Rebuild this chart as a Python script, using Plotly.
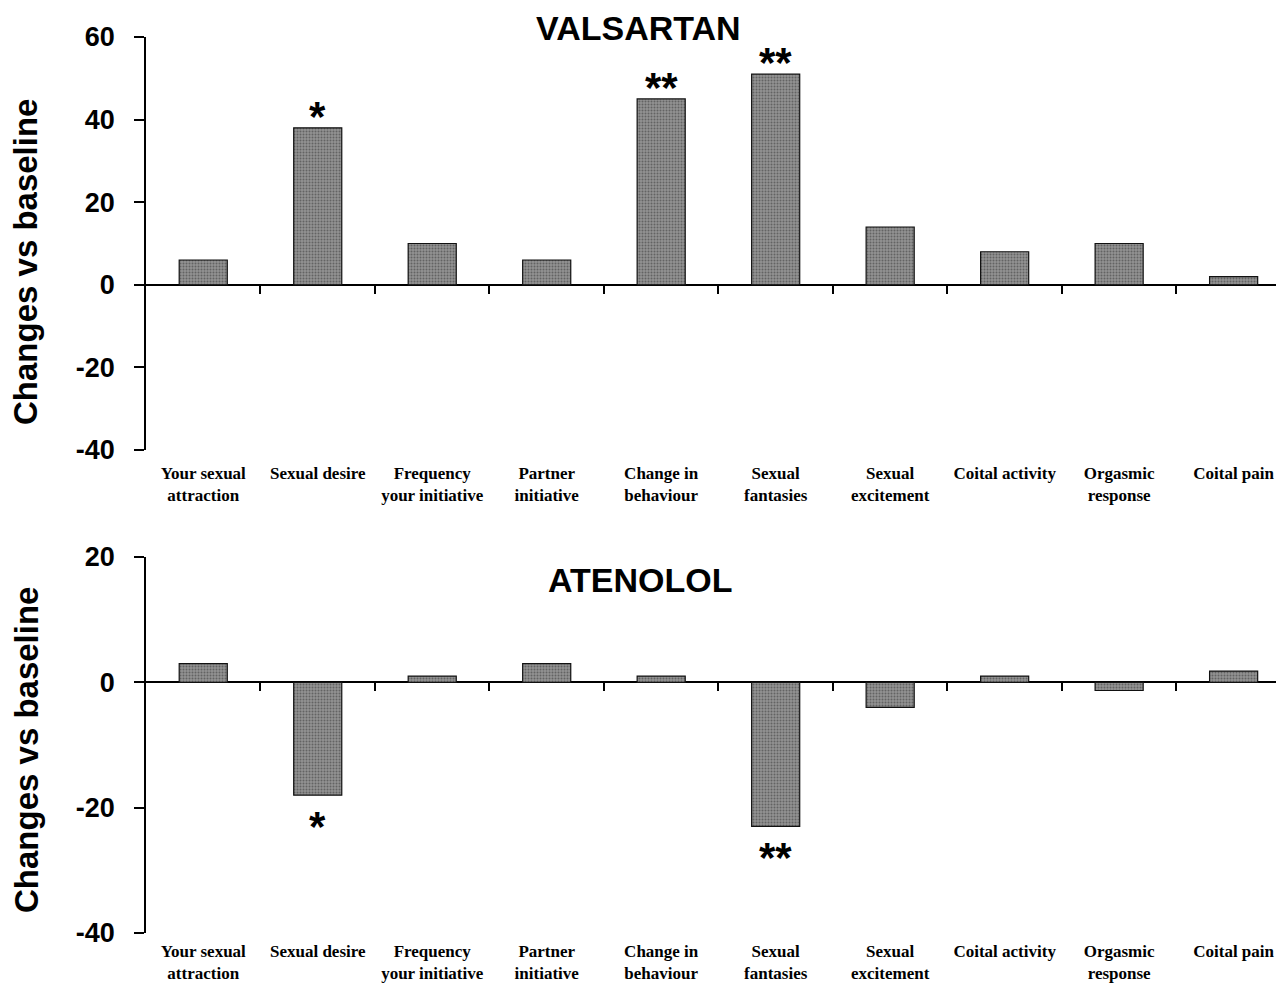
import plotly.graph_objects as go

categories = ["Your sexual attraction", "Sexual desire", "Frequency your initiative",
              "Partner initiative", "Change in behaviour", "Sexual fantasies",
              "Sexual excitement", "Coital activity", "Orgasmic response", "Coital pain"]
tick_labels = ["Your sexual<br>attraction", "Sexual desire", "Frequency<br>your initiative",
               "Partner<br>initiative", "Change in<br>behaviour", "Sexual<br>fantasies",
               "Sexual<br>excitement", "Coital activity", "Orgasmic<br>response", "Coital pain"]
valsartan = [6, 38, 10, 6, 45, 51, 14, 8, 10, 2]
atenolol = [3, -18, 1, 3, 1, -23, -4, 1, -1.3, 1.8]
valsartan_sig = ["", "*", "", "", "**", "**", "", "", "", ""]
atenolol_sig = ["", "*", "", "", "", "**", "", "", "", ""]

top_yticks = [-40, -20, 0, 20, 40, 60]
bot_yticks = [-40, -20, 0, 20]
top_range = [-40, 60]
bot_range = [-40, 20]

# page body has an 8px margin; work in reference pixel coordinates shifted by it
OFF = 8
W, H = 1284 - OFF, 984 - OFF
L = 146 - OFF


def py(yref_px):
    return (H - (yref_px - OFF)) / H


def px(xref_px):
    return (xref_px - OFF - L) / (W - L)


top_dom = [py(450), py(37)]
bot_dom = [py(933), py(557)]

xpos = list(range(len(categories)))
xrange_ = [-0.5, 9.44]
boundaries = [i + 0.5 for i in range(len(categories) - 1)]

ARIAL = "Arial, Liberation Sans, sans-serif"
TIMES = "Times New Roman, Liberation Serif, serif"

bar_style = dict(
    marker=dict(color="#838383", line=dict(color="#111111", width=1.2),
                pattern=dict(shape=".", fgcolor="#333333", bgcolor="#929292", size=3, solidity=0.35)),
    width=0.42, showlegend=False, hoverinfo="skip",
)

fig = go.Figure()
fig.add_trace(go.Bar(x=xpos, y=valsartan, xaxis="x", yaxis="y", **bar_style))
fig.add_trace(go.Bar(x=xpos, y=atenolol, xaxis="x2", yaxis="y2", **bar_style))
# invisible traces to attach the zero-line tick axes
fig.add_trace(go.Scatter(x=[xpos[0]], y=[0], xaxis="x3", yaxis="y", mode="none",
                         showlegend=False, hoverinfo="skip"))
fig.add_trace(go.Scatter(x=[xpos[0]], y=[0], xaxis="x4", yaxis="y2", mode="none",
                         showlegend=False, hoverinfo="skip"))

xlab_font = dict(family=TIMES, size=17, color="black", weight="bold")
ytick_font = dict(family=ARIAL, size=27, color="black", weight="bold")

common_x = dict(range=xrange_, tickmode="array", tickvals=xpos, ticktext=tick_labels,
                showline=False, ticks="", showgrid=False, zeroline=False, automargin=False,
                tickfont=xlab_font)


def zero_axis(over, dom, rng):
    return dict(overlaying=over, anchor="free",
                position=dom[0] + (0 - rng[0]) / (rng[1] - rng[0]) * (dom[1] - dom[0]),
                range=xrange_, tickmode="array", tickvals=boundaries, ticks="outside",
                ticklen=8, tickwidth=1.5, tickcolor="black", showticklabels=False,
                showline=False, showgrid=False, zeroline=False, automargin=False)


def yax(dom, rng, ticks, anchor):
    return dict(domain=dom, range=rng, tickmode="array", tickvals=ticks,
                ticktext=[str(t) for t in ticks],
                ticks="outside", ticklen=10, tickwidth=1.5, tickcolor="black",
                showline=True, linecolor="black", linewidth=1.5, showgrid=False,
                zeroline=True, zerolinecolor="black", zerolinewidth=1.5, automargin=False,
                tickfont=ytick_font, ticklabelstandoff=14, anchor=anchor)


fig.update_layout(
    xaxis=dict(domain=[0, 1], anchor="y", ticklabelstandoff=11, **common_x),
    xaxis2=dict(domain=[0, 1], anchor="y2", ticklabelstandoff=6, **common_x),
    xaxis3=zero_axis("x", top_dom, top_range),
    xaxis4=zero_axis("x2", bot_dom, bot_range),
    yaxis=yax(top_dom, top_range, top_yticks, "x"),
    yaxis2=yax(bot_dom, bot_range, bot_yticks, "x2"),
    width=W, height=H,
    margin=dict(l=L, r=0, t=0, b=0, autoexpand=False),
    plot_bgcolor="white", paper_bgcolor="white",
)

title_font = dict(family=ARIAL, size=34, color="black", weight="bold")
ytitle_font = dict(family=ARIAL, size=33, color="black", weight="bold")
ann = []
ann.append(dict(text="VALSARTAN", x=px(638), y=py(28), xref="paper", yref="paper",
                xanchor="center", yanchor="middle", showarrow=False, font=title_font))
ann.append(dict(text="ATENOLOL", x=px(640), y=py(580), xref="paper", yref="paper",
                xanchor="center", yanchor="middle", showarrow=False, font=title_font))
for yc in [262, 750]:
    ann.append(dict(text="Changes vs baseline", x=px(26), y=py(yc),
                    xref="paper", yref="paper", xanchor="center", yanchor="middle",
                    textangle=-90, showarrow=False, font=ytitle_font))

star_font = dict(family=ARIAL, size=42, color="black", weight="bold")
for vals, sig, xr, yr in [(valsartan, valsartan_sig, "x", "y"), (atenolol, atenolol_sig, "x2", "y2")]:
    for i, (v, s) in enumerate(zip(vals, sig)):
        if not s:
            continue
        if v >= 0:
            ann.append(dict(text=s, x=i, y=v, xref=xr, yref=yr, xanchor="center", yanchor="bottom",
                            yshift=-14, showarrow=False, font=star_font))
        else:
            ann.append(dict(text=s, x=i, y=v, xref=xr, yref=yr, xanchor="center", yanchor="top",
                            yshift=-6, showarrow=False, font=star_font))
fig.update_layout(annotations=ann)

fig.write_html("out.html")
